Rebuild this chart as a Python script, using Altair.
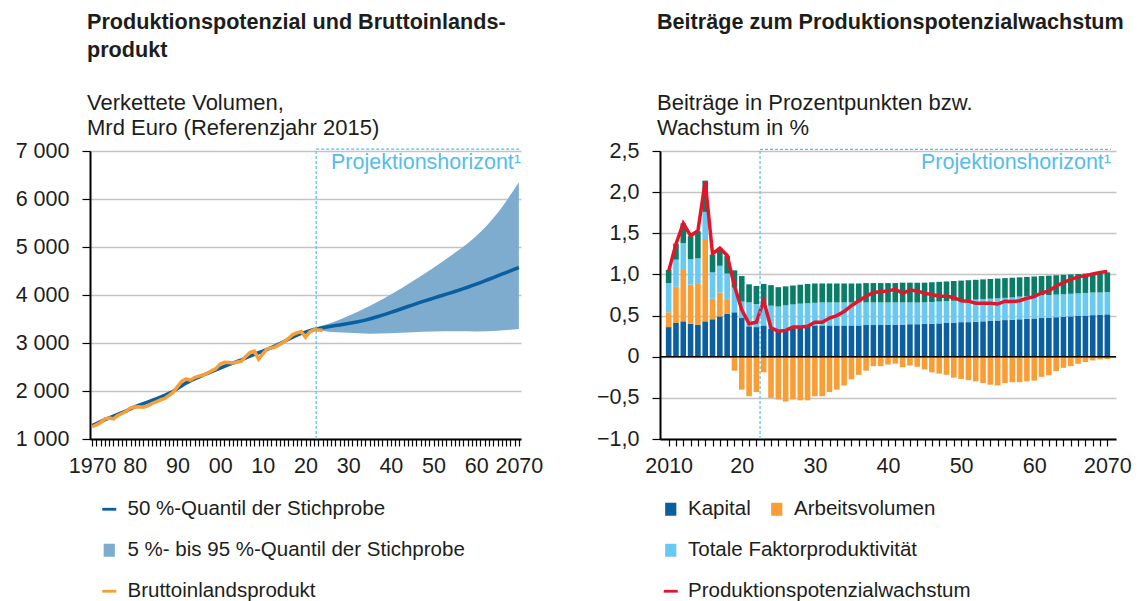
import altair as alt
import pandas as pd

# ---------------- left panel data ----------------
years_pot = list(range(1970, 2071))
potenzial = [1280, 1320, 1362, 1402, 1440, 1475, 1512, 1550, 1588, 1628,
             1668, 1703, 1735, 1768, 1802, 1838, 1873, 1910, 1950, 1995,
             2050, 2110, 2165, 2210, 2250, 2290, 2328, 2365, 2403, 2440,
             2478, 2515, 2550, 2583, 2617, 2650, 2688, 2727, 2765, 2797,
             2830, 2867, 2905, 2945, 2988, 3032, 3077, 3122, 3165, 3200,
             3228, 3255, 3280, 3300, 3318, 3335, 3350, 3364, 3377, 3390,
             3405, 3420, 3437, 3456, 3477, 3500, 3525, 3552, 3580, 3608,
             3637, 3667, 3698, 3729, 3760, 3790, 3820, 3850, 3878, 3906,
             3935, 3963, 3990, 4017, 4045, 4073, 4102, 4132, 4162, 4194,
             4227, 4260, 4294, 4328, 4363, 4398, 4433, 4468, 4503, 4538,
             4570]
years_bip = list(range(1970, 2025))
bip = [1255, 1295, 1345, 1420, 1435, 1420, 1490, 1530, 1580, 1645,
       1665, 1670, 1660, 1690, 1740, 1775, 1815, 1845, 1910, 1975,
       2090, 2200, 2250, 2225, 2280, 2310, 2330, 2370, 2420, 2465,
       2560, 2600, 2595, 2585, 2605, 2620, 2720, 2800, 2830, 2665,
       2775, 2880, 2895, 2925, 2975, 3025, 3095, 3175, 3210, 3240,
       3120, 3230, 3275, 3270, 3265]
band_years = [2023, 2025, 2030, 2035, 2040, 2045, 2050, 2055, 2060, 2065, 2070]
band_lo = [3270, 3240, 3215, 3195, 3205, 3225, 3240, 3245, 3240, 3255, 3290]
band_hi = [3340, 3390, 3560, 3770, 4010, 4280, 4570, 4880, 5230, 5710, 6350]
legend_l = ["50 %-Quantil der Stichprobe",
            "5 %- bis 95 %-Quantil der Stichprobe",
            "Bruttoinlandsprodukt"]

# ---------------- right panel data ----------------
years_r = list(range(2010, 2071))
kapital = [0.36, 0.41, 0.43, 0.40, 0.39, 0.43, 0.455, 0.49, 0.52, 0.54,
           0.47, 0.37, 0.36, 0.38, 0.34, 0.31, 0.32, 0.35, 0.36, 0.37,
           0.38, 0.38, 0.38, 0.38, 0.38, 0.38, 0.38, 0.385, 0.385, 0.385,
           0.39, 0.39, 0.39, 0.395, 0.395, 0.40, 0.40, 0.405, 0.41, 0.415,
           0.42, 0.42, 0.425, 0.43, 0.435, 0.44, 0.445, 0.45, 0.455, 0.46,
           0.465, 0.47, 0.475, 0.48, 0.485, 0.49, 0.495, 0.50, 0.505, 0.51,
           0.515]
arbeit = [0.18, 0.44, 0.635, 0.475, 0.495, 1.00, 0.25, 0.29, 0.18, -0.17,
          -0.40, -0.48, -0.43, -0.19, -0.50, -0.52, -0.545, -0.52, -0.53, -0.53,
          -0.48, -0.48, -0.43, -0.40, -0.35, -0.275, -0.22, -0.17, -0.115, -0.115,
          -0.095, -0.085, -0.127, -0.107, -0.123, -0.155, -0.19, -0.205, -0.22, -0.255,
          -0.27, -0.285, -0.30, -0.32, -0.34, -0.35, -0.32, -0.31, -0.31, -0.30,
          -0.29, -0.245, -0.225, -0.175, -0.135, -0.115, -0.086, -0.066, -0.045, -0.033,
          -0.03]
tfp = [0.355, 0.33, 0.315, 0.31, 0.31, 0.33, 0.32, 0.325, 0.31, 0.30,
       0.20, 0.29, 0.28, 0.26, 0.28, 0.30, 0.305, 0.285, 0.285, 0.28,
       0.275, 0.28, 0.28, 0.28, 0.28, 0.28, 0.28, 0.275, 0.275, 0.275,
       0.27, 0.27, 0.27, 0.265, 0.265, 0.26, 0.265, 0.265, 0.265, 0.265,
       0.265, 0.27, 0.27, 0.27, 0.27, 0.27, 0.27, 0.27, 0.275, 0.275,
       0.275, 0.275, 0.275, 0.275, 0.275, 0.275, 0.275, 0.275, 0.275, 0.27,
       0.27]
human = [0.16, 0.195, 0.24, 0.28, 0.33, 0.38, 0.215, 0.18, 0.215, 0.21,
         0.31, 0.22, 0.22, 0.245, 0.25, 0.235, 0.23, 0.23, 0.23, 0.235,
         0.235, 0.23, 0.23, 0.23, 0.23, 0.23, 0.23, 0.235, 0.235, 0.235,
         0.235, 0.235, 0.24, 0.24, 0.24, 0.24, 0.24, 0.24, 0.24, 0.24,
         0.24, 0.24, 0.24, 0.24, 0.24, 0.24, 0.24, 0.24, 0.235, 0.235,
         0.235, 0.235, 0.235, 0.235, 0.235, 0.235, 0.235, 0.235, 0.235, 0.24,
         0.24]
wachstum = [1.04, 1.37, 1.62, 1.47, 1.53, 2.13, 1.25, 1.32, 1.23, 0.86,
            0.57, 0.40, 0.42, 0.68, 0.35, 0.31, 0.32, 0.36, 0.36, 0.37,
            0.42, 0.42, 0.47, 0.50, 0.55, 0.62, 0.68, 0.735, 0.78, 0.79,
            0.80, 0.82, 0.77, 0.81, 0.80, 0.77, 0.755, 0.735, 0.735, 0.72,
            0.68, 0.675, 0.65, 0.65, 0.65, 0.64, 0.675, 0.67, 0.68, 0.71,
            0.73, 0.775, 0.80, 0.86, 0.90, 0.94, 0.97, 0.985, 1.005, 1.025,
            1.035]
komponenten = ["Kapital", "Arbeitsvolumen", "Totale Faktorproduktivität", "Humankapital"]
legend_r = komponenten + ["Produktionspotenzialwachstum"]
# legend entries of the right panel, split into three blocks like the original layout
leg_block1 = ["Kapital", "Totale Faktorproduktivität", "Produktionspotenzialwachstum"]
leg_block2 = ["Arbeitsvolumen"]
leg_block3 = ["Humankapital"]

proj_start = 2022.5
proj_label = "Projektionshorizont\u00b9"

# ---------------- styles ----------------
FONT = "Liberation Sans"
TXT = "#1d1d1b"
C_BLUE = "#0a5fa0"
C_ORANGE = "#fa9d35"
C_LIGHT = "#68caf2"
C_GREEN = "#0a7d68"
C_RED = "#e2162b"
C_BAND = "#7dacce"
C_PROJ = "#55bdea"
C_GRID = "#c4c4c4"

LINE_SYM = "M-1,-0.2H1V0.2H-1Z"
SQ_SYM = "M-0.8,-0.93H0.8V0.93H-0.8Z"

W_L, W_R, H = 431, 456, 288
LBL = 21.5
LEG_Y = 348
ROW_STEP = 41.5


def legend(lx, **kw):
    opts = dict(title=None, orient="none", legendX=lx, legendY=LEG_Y,
                columns=1, direction="vertical",
                labelFont=FONT, labelFontSize=20.5, labelColor=TXT, labelOffset=7,
                symbolSize=196, symbolOpacity=1, symbolStrokeWidth=0,
                rowPadding=20, labelLimit=500, padding=0)
    opts.update(kw)
    return alt.Legend(**opts)


def year_axis(first, last):
    expr = ("datum.value % 10 == 0 ? ((datum.value == " + str(first) +
            " || datum.value == " + str(last) + ") ? "
            "toString(datum.value) : slice(toString(datum.value), 2)) : ''")
    return alt.Axis(values=list(range(first, last + 1)), labelExpr=expr, title=None,
                    grid=False, domainColor="black", domainWidth=2, tickColor="black",
                    tickWidth=1.2, tickSize=7, labelFont=FONT, labelFontSize=LBL,
                    labelColor=TXT, labelPadding=9, labelOverlap=False,
                    labelFlush=False, labelBound=False)


def value_axis(vals, expr):
    return alt.Axis(values=vals, title=None, labelExpr=expr, labelOverlap=False,
                    gridColor=C_GRID, gridWidth=1.5, domainColor="black", domainWidth=2,
                    tickColor="black", tickWidth=1.2, tickSize=8, labelFont=FONT,
                    labelFontSize=LBL, labelColor=TXT, labelPadding=13)


# ---------------- left panel ----------------
pot_df = pd.DataFrame({"jahr": years_pot, "wert": potenzial})
bip_df = pd.DataFrame({"jahr": years_bip, "wert": bip})
band_df = pd.DataFrame({"jahr": band_years, "lo": band_lo, "hi": band_hi})

xs_l = alt.Scale(domain=[1969.5, 2070.5], nice=False, zero=False)
ys_l = alt.Scale(domain=[1000, 7000], nice=False, zero=False)
xax_l = year_axis(1970, 2070)
yax_l = value_axis([1000, 2000, 3000, 4000, 5000, 6000, 7000],
                   "replace(format(datum.value, ','), ',', ' ')")


def XL(f):
    return alt.X(f, scale=xs_l, axis=xax_l)


def YL(f):
    return alt.Y(f, scale=ys_l, axis=yax_l)


band = alt.Chart(band_df).mark_area(color=C_BAND, interpolate="monotone").encode(
    x=XL("jahr:Q"), y=YL("lo:Q"), y2="hi:Q")
pot_line = alt.Chart(pot_df).mark_line(color=C_BLUE, strokeWidth=3.5).encode(
    x=XL("jahr:Q"), y=YL("wert:Q"))
bip_line = alt.Chart(bip_df).mark_line(color=C_ORANGE, strokeWidth=3.5).encode(
    x=XL("jahr:Q"), y=YL("wert:Q"))

proj_l = pd.DataFrame({"x": [proj_start], "x2": [2070.5], "y": [1000], "top": [7040],
                       "ty": [6760], "t": [proj_label]})
vrule_l = alt.Chart(proj_l).mark_rule(color=C_PROJ, strokeWidth=1.2, strokeDash=[3, 2]).encode(
    x=XL("x:Q"), y=YL("y:Q"), y2="top:Q")
hrule_l = alt.Chart(proj_l).mark_rule(color=C_PROJ, strokeWidth=1.2, strokeDash=[3, 2]).encode(
    x=XL("x:Q"), x2="x2:Q", y=YL("top:Q"))
text_l = alt.Chart(proj_l).mark_text(color=C_PROJ, font=FONT, fontSize=21.5, align="right",
                                     baseline="middle").encode(
    x=XL("x2:Q"), y=YL("ty:Q"), text="t:N")

shapes_l = [LINE_SYM, SQ_SYM, LINE_SYM]
col_l = alt.Scale(domain=legend_l, range=[C_BLUE, C_BAND, C_ORANGE])
leg_l_obj = legend(9, labelOffset=8)
leg_l = alt.Chart(pd.DataFrame({"eintrag": legend_l})).mark_point(filled=True, opacity=0).encode(
    x=alt.value(0), y=alt.value(0),
    color=alt.Color("eintrag:N", scale=col_l, legend=leg_l_obj, sort=legend_l),
    shape=alt.Shape("eintrag:N", scale=alt.Scale(domain=legend_l, range=shapes_l),
                    legend=leg_l_obj, sort=legend_l),
)

left = alt.layer(band, pot_line, bip_line, vrule_l, hrule_l, text_l, leg_l).properties(
    width=W_L, height=H,
    title=alt.TitleParams(text=["Produktionspotenzial und Bruttoinlands-", "produkt"],
                          subtitle=["Verkettete Volumen,", "Mrd Euro (Referenzjahr 2015)"]),
)

# ---------------- right panel ----------------
rows = []
for i, yr in enumerate(years_r):
    for k, arr in enumerate([kapital, arbeit, tfp, human]):
        rows.append({"jahr": yr, "komp": komponenten[k], "wert": arr[i], "ord": k})
bars_df = pd.DataFrame(rows)
wachs_df = pd.DataFrame({"jahr": years_r, "wert": wachstum})

xs_r = alt.Scale(domain=[2009.5, 2070.5], nice=False, zero=False)
ys_r = alt.Scale(domain=[-1.0, 2.5], nice=False, zero=False)
xax_r = year_axis(2010, 2070)
yax_r = value_axis([-1.0, -0.5, 0, 0.5, 1.0, 1.5, 2.0, 2.5],
                   "datum.value == 0 ? '0' : replace(format(datum.value, '.1f'), '.', ',')")


def XR(f):
    return alt.X(f, scale=xs_r, axis=xax_r)


def YR(f, **kw):
    return alt.Y(f, scale=ys_r, axis=yax_r, **kw)


fill_r = alt.Scale(domain=komponenten, range=[C_BLUE, C_ORANGE, C_LIGHT, C_GREEN])
bars = alt.Chart(bars_df).mark_bar(size=5.6).encode(
    x=XR("jahr:Q"),
    y=YR("wert:Q", stack="zero"),
    fill=alt.Fill("komp:N", scale=fill_r,
                  legend=legend(106.5, values=leg_block2, symbolType=SQ_SYM)),
    order=alt.Order("ord:Q"),
)
zero = alt.Chart(pd.DataFrame({"y": [0.0]})).mark_rule(color="black", strokeWidth=1.5).encode(
    y=YR("y:Q"))
red_line = alt.Chart(wachs_df).mark_line(color=C_RED, strokeWidth=3.5).encode(
    x=XR("jahr:Q"), y=YR("wert:Q"))

proj_r = pd.DataFrame({"x": [proj_start], "x2": [2070.5], "y": [-1.0], "top": [2.52],
                       "ty": [2.35], "t": [proj_label]})
vrule_r = alt.Chart(proj_r).mark_rule(color=C_PROJ, strokeWidth=1.2, strokeDash=[3, 2]).encode(
    x=XR("x:Q"), y=YR("y:Q"), y2="top:Q")
hrule_r = alt.Chart(proj_r).mark_rule(color=C_PROJ, strokeWidth=1.2, strokeDash=[3, 2]).encode(
    x=XR("x:Q"), x2="x2:Q", y=YR("top:Q"))
text_r = alt.Chart(proj_r).mark_text(color=C_PROJ, font=FONT, fontSize=21.5, align="right",
                                     baseline="middle").encode(
    x=XR("x2:Q"), y=YR("ty:Q"), text="t:N")

shapes_r = [SQ_SYM, SQ_SYM, SQ_SYM, SQ_SYM, LINE_SYM]
col_r = alt.Scale(domain=legend_r, range=[C_BLUE, C_ORANGE, C_LIGHT, C_GREEN, C_RED])
leg1 = legend(0.5, values=leg_block1)
leg_r1 = alt.Chart(pd.DataFrame({"eintrag": legend_r})).mark_point(filled=True, opacity=0).encode(
    x=alt.value(0), y=alt.value(0),
    color=alt.Color("eintrag:N", scale=col_r, legend=leg1),
    shape=alt.Shape("eintrag:N", scale=alt.Scale(domain=legend_r, range=shapes_r), legend=leg1),
)
leg3 = legend(288.5, values=leg_block3, symbolType=SQ_SYM, legendY=LEG_Y + ROW_STEP,
              symbolFillColor=C_GREEN, symbolStrokeColor=C_GREEN)
leg_r3 = alt.Chart(pd.DataFrame({"eintrag_hk": legend_r})).mark_point(
    filled=True, color=C_GREEN, opacity=0).encode(
    x=alt.value(0), y=alt.value(0),
    stroke=alt.Stroke("eintrag_hk:N", scale=col_r, legend=leg3),
)

right = alt.layer(bars, zero, red_line, vrule_r, hrule_r, text_r, leg_r1, leg_r3).properties(
    width=W_R, height=H,
    title=alt.TitleParams(text=["Beiträge zum Produktionspotenzialwachstum", " "],
                          subtitle=["Beiträge in Prozentpunkten bzw.", "Wachstum in %"]),
)

chart = alt.hconcat(left, right, spacing=53).resolve_scale(
    color="independent", shape="independent", fill="independent", stroke="independent",
    x="independent", y="independent"
).properties(
    padding={"left": 7, "top": 4, "right": 0, "bottom": 0}
).configure_view(stroke=None).configure_title(
    anchor="start", frame="group", font=FONT, fontSize=21.6, fontWeight="bold", color=TXT,
    lineHeight=28, subtitleFont=FONT, subtitleFontSize=22, subtitleColor=TXT,
    subtitleLineHeight=25, subtitlePadding=31, offset=-2, dx=-3, dy=-3,
)

chart.save("out.html", embed_options={"renderer": "svg", "actions": False})
